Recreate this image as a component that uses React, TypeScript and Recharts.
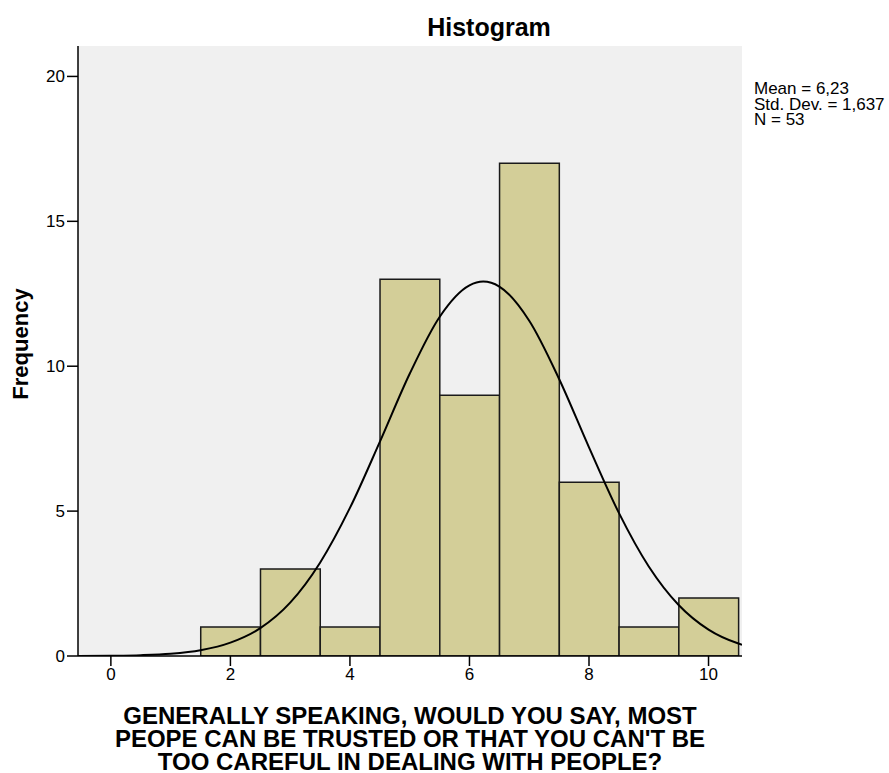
import {
  Bar,
  CartesianGrid,
  ComposedChart,
  Customized,
  Line,
  Rectangle,
  XAxis,
  YAxis,
} from 'recharts';

const binCenters = [2, 3, 4, 5, 6, 7, 8, 9, 10];
const frequencies = [1, 3, 1, 13, 9, 17, 6, 1, 2];

const curveX = [
  -0.55, 0, 0.5, 1, 1.5, 2, 2.5, 3, 3.5, 4, 4.5, 5, 5.5, 6, 6.23, 6.5, 7, 7.5, 8,
  8.5, 9, 9.5, 10, 10.5, 10.56,
];
const curveY = [
  0.0, 0.01, 0.03, 0.08, 0.2, 0.46, 0.96, 1.84, 3.22, 5.11, 7.39, 9.74, 11.7,
  12.79, 12.92, 12.75, 11.57, 9.56, 7.2, 4.94, 3.09, 1.76, 0.91, 0.43, 0.39,
];

const xTicks = [0, 2, 4, 6, 8, 10];
const yTicks = [0, 5, 10, 15, 20];
const xDomain = [-0.55, 10.56];
const yDomain = [0, 21.05];

const statLines = ['Mean = 6,23', 'Std. Dev. = 1,637', 'N = 53'];
const xTitleLines = [
  'GENERALLY SPEAKING, WOULD YOU SAY, MOST',
  "PEOPE CAN BE TRUSTED OR THAT YOU CAN'T BE",
  'TOO CAREFUL IN DEALING WITH PEOPLE?',
];

const barData = binCenters.map((x, i) => ({ x, count: frequencies[i] }));
const curveData = curveX.map((x, i) => ({ x, normal: curveY[i] }));

const FONT = '"Liberation Sans", Arial, sans-serif';

const W = 889;
const H = 773;
const M = { top: 46, right: 147, bottom: 0, left: 0 };
const Y_AXIS_W = 78;
const X_AXIS_H = 117;
// bins are one unit wide, so a bar spans one unit of the x scale
const plotWidth = W - M.left - M.right - Y_AXIS_W;
const binPx = plotWidth / (xDomain[1] - xDomain[0]);

function BinShape(props: any) {
  const { x, y, width, height } = props;
  const cx = x + width / 2;
  return (
    <Rectangle
      x={cx - binPx / 2}
      y={y}
      width={binPx}
      height={height}
      fill="#d3ce98"
      stroke="#1a1a1a"
      strokeWidth={1.5}
    />
  );
}

function Annotations() {
  return (
    <g fontFamily={FONT} fill="#000">
      <text x={489} y={36} textAnchor="middle" fontSize={25} fontWeight="bold">
        Histogram
      </text>
      {statLines.map((line, i) => (
        <text key={line} x={754} y={94 + i * 15.5} fontSize={17}>
          {line}
        </text>
      ))}
    </g>
  );
}

function XTitle(props: any) {
  const vb = props.viewBox || {};
  const cx = vb.x + vb.width / 2;
  return (
    <text x={cx} y={724} textAnchor="middle" fontFamily={FONT} fontSize={24} fontWeight="bold" fill="#000">
      {xTitleLines.map((line, i) => (
        <tspan key={i} x={cx} dy={i === 0 ? 0 : 23}>
          {line}
        </tspan>
      ))}
    </text>
  );
}

function YTitle() {
  const cx = 28;
  const cy = 344;
  return (
    <text
      x={cx}
      y={cy}
      transform={`rotate(-90, ${cx}, ${cy})`}
      textAnchor="middle"
      fontFamily={FONT}
      fontSize={22}
      fontWeight="bold"
      fill="#000"
    >
      Frequency
    </text>
  );
}

export default function App() {
  return (
    <div style={{ position: 'absolute', left: 0, top: 0, width: W, height: H, background: '#fff' }}>
      <ComposedChart
        width={W}
        height={H}
        data={barData}
        margin={M}
        barCategoryGap={0}
        barGap={0}
      >
        <CartesianGrid fill="#f0f0f0" horizontal={false} vertical={false} />
        <XAxis
          dataKey="x"
          type="number"
          domain={xDomain}
          ticks={xTicks}
          allowDataOverflow
          height={X_AXIS_H}
          axisLine={{ stroke: '#000', strokeWidth: 1.5 }}
          tickLine={{ stroke: '#000', strokeWidth: 1.5 }}
          tickSize={10}
          tick={{ fill: '#000', fontSize: 17, fontFamily: FONT }}
          label={<XTitle />}
        />
        <XAxis
          xAxisId="top"
          orientation="top"
          type="number"
          domain={xDomain}
          tick={false}
          tickLine={false}
          height={0}
          axisLine={{ stroke: '#000', strokeWidth: 1.5 }}
        />
        <YAxis
          type="number"
          domain={yDomain}
          ticks={yTicks}
          allowDataOverflow
          width={Y_AXIS_W}
          axisLine={{ stroke: '#000', strokeWidth: 1.5 }}
          tickLine={{ stroke: '#000', strokeWidth: 1.5 }}
          tickSize={11}
          tick={{ fill: '#000', fontSize: 17, fontFamily: FONT }}
          label={<YTitle />}
        />
        <YAxis
          yAxisId="right"
          orientation="right"
          type="number"
          domain={yDomain}
          tick={false}
          tickLine={false}
          width={0}
          axisLine={{ stroke: '#000', strokeWidth: 1.5 }}
        />
        <Bar
          dataKey="count"
          shape={<BinShape />}
          isAnimationActive={false}
        />
        <Line
          data={curveData}
          dataKey="normal"
          type="monotone"
          stroke="#000"
          strokeWidth={2}
          dot={false}
          activeDot={false}
          isAnimationActive={false}
        />
        <Customized component={Annotations} />
      </ComposedChart>
    </div>
  );
}
